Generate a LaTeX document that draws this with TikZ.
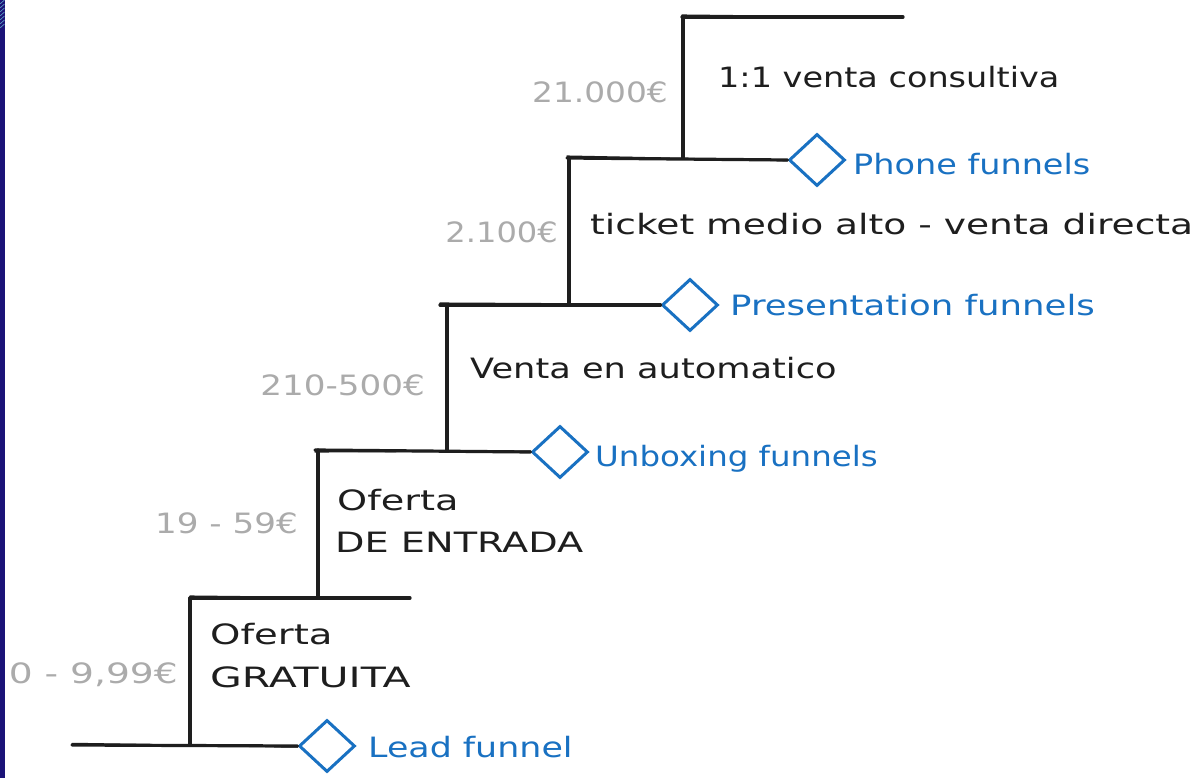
\documentclass[tikz,border=0pt]{standalone}
\usepackage{fontspec}
\setmainfont[FakeStretch=1.22]{DejaVu Sans}
\usetikzlibrary{shapes.geometric}

\definecolor{ink}{HTML}{1E1E1E}
\definecolor{funnelblue}{HTML}{1971C2}
\definecolor{pricegray}{HTML}{ABABAB}
\definecolor{navy}{HTML}{1B1378}
\definecolor{hatch}{HTML}{5FA8C8}

\tikzset{
  stair/.style={draw=ink, line width=3.2pt, line cap=round, line join=round},
  stairthin/.style={draw=ink, line width=1.5pt, line cap=round},
  funnel/.style={diamond, draw=funnelblue, line width=3pt, inner sep=0pt,
                 minimum width=56pt, minimum height=52pt},
  tier/.style={inner sep=0pt, text=ink, font=\fontsize{28}{30}\selectfont, anchor=base west},
  price/.style={inner sep=0pt, text=pricegray, font=\fontsize{28}{30}\selectfont, anchor=base east},
  funnellabel/.style={inner sep=0pt, text=funnelblue, font=\fontsize{28}{30}\selectfont, anchor=base west},
}
% horizontal stretch of a single label
\newcommand\hs[2]{\scalebox{#1}[1]{#2}}

\begin{document}
\begin{tikzpicture}[x=1pt, y=-1pt]
  % page
  \fill[white] (0,0) rectangle (1195,778);
  \useasboundingbox (0,0) rectangle (1195,778);

  % dark strip on the left edge with a little hatching on top
  \fill[navy] (0,0) rectangle (4.5,778);
  \foreach \k in {0,4,...,24}
    \draw[hatch, line width=0.6pt] (0,\k+4) -- (4.5,\k);

  % stair corners
  \coordinate (t0) at (682,17);   \coordinate (t1) at (903,17);
  \coordinate (v1b) at (683,158);
  \coordinate (h1l) at (567,158);
  \coordinate (v2b) at (569,305);
  \coordinate (h2l) at (440,305);
  \coordinate (v3b) at (447,450);
  \coordinate (h3l) at (315,450);
  \coordinate (v4b) at (318,598);
  \coordinate (h4l) at (190,598); \coordinate (h4r) at (410,598);
  \coordinate (v5b) at (190,745);
  \coordinate (h5l) at (72,745);

  % funnel markers
  \node[funnel] (phone) at (817,160) {};
  \node[funnel] (pres)  at (690,305) {};
  \node[funnel] (unbox) at (560,452) {};
  \node[funnel] (lead)  at (327,746) {};

  % stair lines, each traced twice for a hand-drawn look
  \draw[stair] (t0) -- (t1);
  \draw[stairthin] ([yshift=1.8pt]t0) -- ([yshift=-0.6pt]t1);
  \draw[stair] ([xshift=1pt]t0) -- (v1b);
  \draw[stair] (h1l) -- (phone.west);
  \draw[stairthin] ([yshift=1.8pt]h1l) -- ([yshift=-0.6pt]phone.west);
  \draw[stair] ([xshift=2pt]h1l) -- (v2b);
  \draw[stair] (h2l) -- (pres.west);
  \draw[stairthin] ([yshift=1.8pt]h2l) -- ([yshift=0.6pt]pres.west);
  \draw[stair] ([xshift=7pt]h2l) -- (v3b);
  \draw[stair] (h3l) -- (unbox.west);
  \draw[stairthin] ([yshift=-1.8pt]h3l) -- ([yshift=1pt]unbox.west);
  \draw[stair] ([xshift=3pt]h3l) -- (v4b);
  \draw[stair] (h4l) -- (h4r);
  \draw[stairthin] ([yshift=1.8pt]h4l) -- ([yshift=-0.6pt]h4r);
  \draw[stair] (h4l) -- (v5b);
  \draw[stair] (h5l) -- (lead.west);
  \draw[stairthin] ([yshift=1.5pt]h5l) -- ([yshift=-1pt]lead.west);

  % tier descriptions
  \node[tier] (consult) at (718,88)  {\hs{0.98}{1:1 venta consultiva}};
  \node[tier] (ticket)  at (590,235) {\hs{1.10}{ticket medio alto - venta directa}};
  \node[tier] (auto)    at (470,378) {\hs{1.03}{Venta en automatico}};
  \node[tier] (entry1)  at (337,510) {\hs{1.12}{Oferta}};
  \node[tier] (entry2)  at (335,552) {\hs{1.12}{DE ENTRADA}};
  \node[tier] (free1)   at (210,644) {\hs{1.13}{Oferta}};
  \node[tier] (free2)   at (210,687) {\hs{1.20}{GRATUITA}};

  % price ranges
  \node[price] (p21000) at (668,103) {\hs{0.96}{21.000€}};
  \node[price] (p2100)  at (558,243) {\hs{0.94}{2.100€}};
  \node[price] (p210)   at (425,395) {210-500€};
  \node[price] (p19)    at (298,533) {19 - 59€};
  \node[price] (p0)     at (178,683) {\hs{1.10}{0 - 9,99€}};

  % funnel names
  \node[funnellabel] (phonetxt) at (853,175) {\hs{0.98}{Phone funnels}};
  \node[funnellabel] (prestxt)  at (730,316) {\hs{1.04}{Presentation funnels}};
  \node[funnellabel] (unboxtxt) at (595,466) {\hs{0.95}{Unboxing funnels}};
  \node[funnellabel] (leadtxt)  at (368,757) {\hs{1.02}{Lead funnel}};
\end{tikzpicture}
\end{document}
